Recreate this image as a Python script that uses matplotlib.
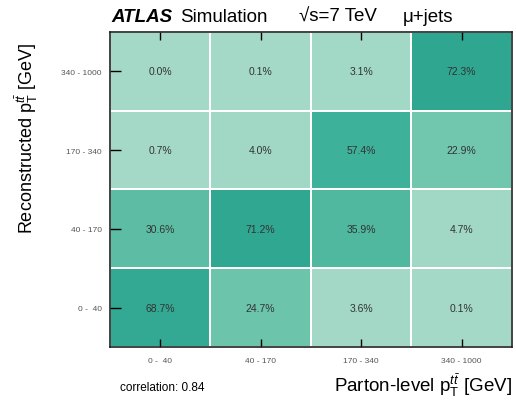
import matplotlib
matplotlib.use("Agg")
import matplotlib.pyplot as plt
import matplotlib.colors as colors
import numpy as np

plt.rcParams['font.family'] = ['Liberation Sans', 'DejaVu Sans']
plt.rcParams['mathtext.fontset'] = 'custom'
plt.rcParams['mathtext.rm'] = 'Liberation Sans'
plt.rcParams['mathtext.it'] = 'Liberation Sans:italic'

# bins (parton-level on x, reconstructed on y)
bins_parton = ["0 -  40", "40 - 170", "170 - 340", "340 - 1000"]
bins_reco = ["0 -  40", "40 - 170", "170 - 340", "340 - 1000"]

# migration matrix in %, rows = reconstructed bin (bottom to top)
row_0_40 = [68.7, 24.7, 3.6, 0.1]
row_40_170 = [30.6, 71.2, 35.9, 4.7]
row_170_340 = [0.7, 4.0, 57.4, 22.9]
row_340_1000 = [0.0, 0.1, 3.1, 72.3]
correlation = 0.84

matrice = np.array([row_0_40, row_40_170, row_170_340, row_340_1000])

cmap = colors.LinearSegmentedColormap.from_list(
    "atlas_vert",
    [(0.0, "#a4d9c7"), (0.06, "#a0d7c4"), (0.25, "#6bc4ab"),
     (0.35, "#50b89f"), (0.60, "#3cb099"), (0.75, "#2ca48e"), (1.0, "#259a85")])

fig = plt.figure(figsize=(5.16, 4.10), dpi=100)
ax = fig.add_axes([0.213, 0.151, 0.779, 0.769])

ax.pcolormesh(np.arange(5), np.arange(5), matrice, cmap=cmap, vmin=0, vmax=100,
              edgecolors="white", linewidth=1.2)

for i in range(4):
    for j in range(4):
        ax.text(j + 0.5, i + 0.5, f"{matrice[i, j]:.1f}%", ha="center", va="center",
                fontsize=7.5, color="#333333")

ax.set_xlim(0, 4)
ax.set_ylim(0, 4)
ax.set_xticks(np.arange(4) + 0.5)
ax.set_xticklabels(bins_parton, fontsize=6, color="#555555")
ax.set_yticks(np.arange(4) + 0.5)
ax.set_yticklabels(bins_reco, fontsize=6, color="#555555")
ax.tick_params(axis="x", direction="in", length=6, width=1, top=True, pad=7)
ax.tick_params(axis="y", direction="in", length=8, width=1, pad=6)
for s in ax.spines.values():
    s.set_linewidth(1.2)
    s.set_color("#222222")

fig.text(0.052, 0.663, r"Reconstructed p$_{\mathrm{T}}^{t\bar{t}}$ [GeV]", fontsize=13,
         rotation=90, ha="center", va="center")
fig.text(0.992, 0.06, r"Parton-level p$_{\mathrm{T}}^{t\bar{t}}$ [GeV]", fontsize=13.5,
         ha="right", va="center")
fig.text(0.233, 0.053, f"correlation: {correlation:.2f}", fontsize=8.5, ha="left", va="center")

# en-tete
fig.text(0.215, 0.957, "ATLAS", fontsize=13.5, fontweight="bold", style="italic", va="center")
fig.text(0.349, 0.957, "Simulation", fontsize=13.5, va="center")
fig.text(0.58, 0.957, "√s=7 TeV", fontsize=13.5, va="center")
fig.text(0.78, 0.957, "μ+jets", fontsize=13.5, va="center")

fig.savefig("out.png", dpi=100)
